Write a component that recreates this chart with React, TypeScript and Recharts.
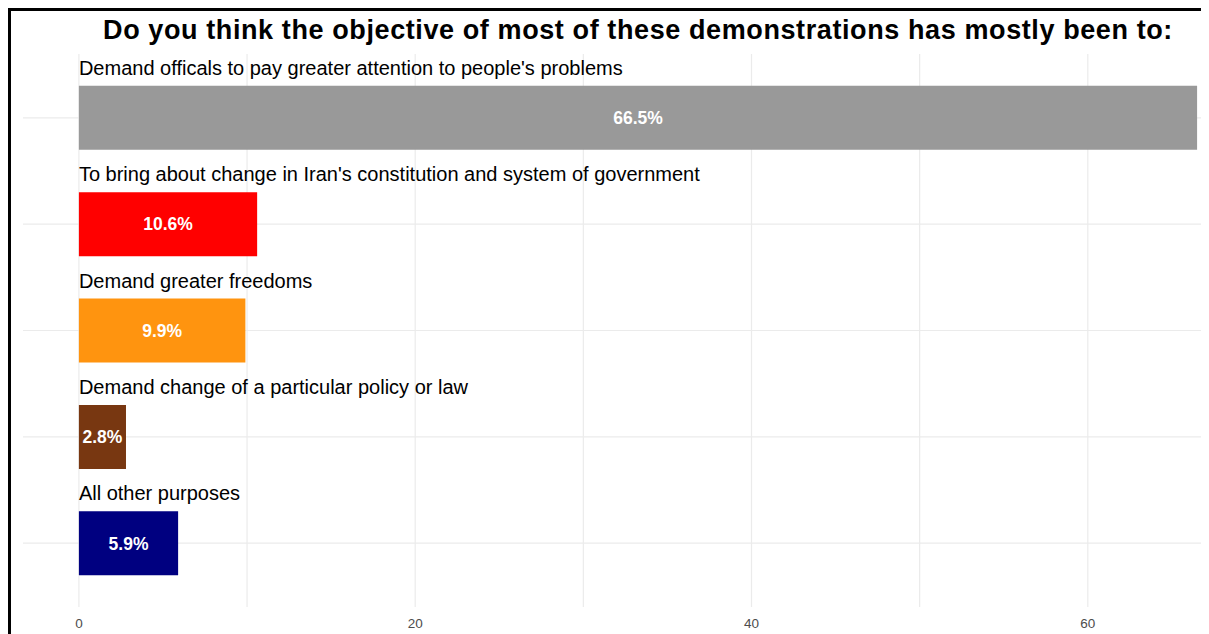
import React from 'react';
import { BarChart, Bar, XAxis, YAxis, CartesianGrid, Cell, LabelList } from 'recharts';

const categories = [
  'Demand officals to pay greater attention to people\'s problems',
  'To bring about change in Iran\'s constitution and system of government',
  'Demand greater freedoms',
  'Demand change of a particular policy or law',
  'All other purposes',
];
const shares = [66.5, 10.6, 9.9, 2.8, 5.9];
const barColors = ['#999999', '#ff0000', '#ff940f', '#783711', '#000080'];
const xTicks = [0, 10, 20, 30, 40, 50, 60];
const labelledTicks = [0, 20, 40, 60];

const data = categories.map((name, i) => ({ name, value: shares[i] }));

const FONT = '"Liberation Sans", Arial, Helvetica, sans-serif';

const CategoryLabel = (props: any) => {
  const { x, y, value } = props;
  return (
    <text x={x} y={y - 11} fill="#000" fontSize={20} fontFamily={FONT} textAnchor="start">
      {value}
    </text>
  );
};

const AxisTick = (props: any) => {
  const { x, y, payload } = props;
  if (!labelledTicks.includes(payload.value)) return null;
  return (
    <text x={x} y={y + 19} fill="#4d4d4d" fontSize={13.5} fontFamily={FONT} textAnchor="middle">
      {payload.value}
    </text>
  );
};

const App: React.FC = () => {
  return (
    <div style={{
      position: 'relative',
      width: 1201,
      height: 626,
      overflow: 'hidden',
      borderLeft: '3px solid #000',
      borderTop: '3px solid #000',
      boxSizing: 'border-box',
      background: '#fff',
    }}>
      <div style={{
        position: 'absolute',
        top: 6,
        left: 0,
        width: 1254,
        textAlign: 'center',
        fontFamily: FONT,
        fontWeight: 'bold',
        fontSize: 27,
        letterSpacing: 0.6,
        lineHeight: '27px',
        color: '#000',
        whiteSpace: 'nowrap',
      }}>
        Do you think the objective of most of these demonstrations has mostly been to:
      </div>
      <BarChart
        width={1260}
        height={630}
        data={data}
        layout="vertical"
        margin={{ top: 43, right: 18, bottom: 4, left: 12 }}
        barCategoryGap="20%"
      >
        <CartesianGrid stroke="#ebebeb" strokeWidth={1.2} syncWithTicks />
        <XAxis
          type="number"
          domain={[-3.325, 69.825]}
          allowDataOverflow
          ticks={xTicks}
          axisLine={false}
          tickLine={false}
          tickSize={0}
          height={30}
          tick={<AxisTick />}
        />
        <YAxis
          type="category"
          dataKey="name"
          hide
          width={0}
          padding={{ top: 10.6, bottom: 10.6 }}
        />
        <Bar dataKey="value" isAnimationActive={false}>
          {data.map((d, i) => (
            <Cell key={d.name} fill={barColors[i]} />
          ))}
          <LabelList dataKey="name" content={<CategoryLabel />} />
          <LabelList
            dataKey="value"
            position="center"
            fill="#fff"
            fontSize={17.5}
            fontWeight="bold"
            fontFamily={FONT}
            formatter={(v: any) => `${Number(v).toFixed(1)}%`}
          />
        </Bar>
      </BarChart>
    </div>
  );
};

export default App;
